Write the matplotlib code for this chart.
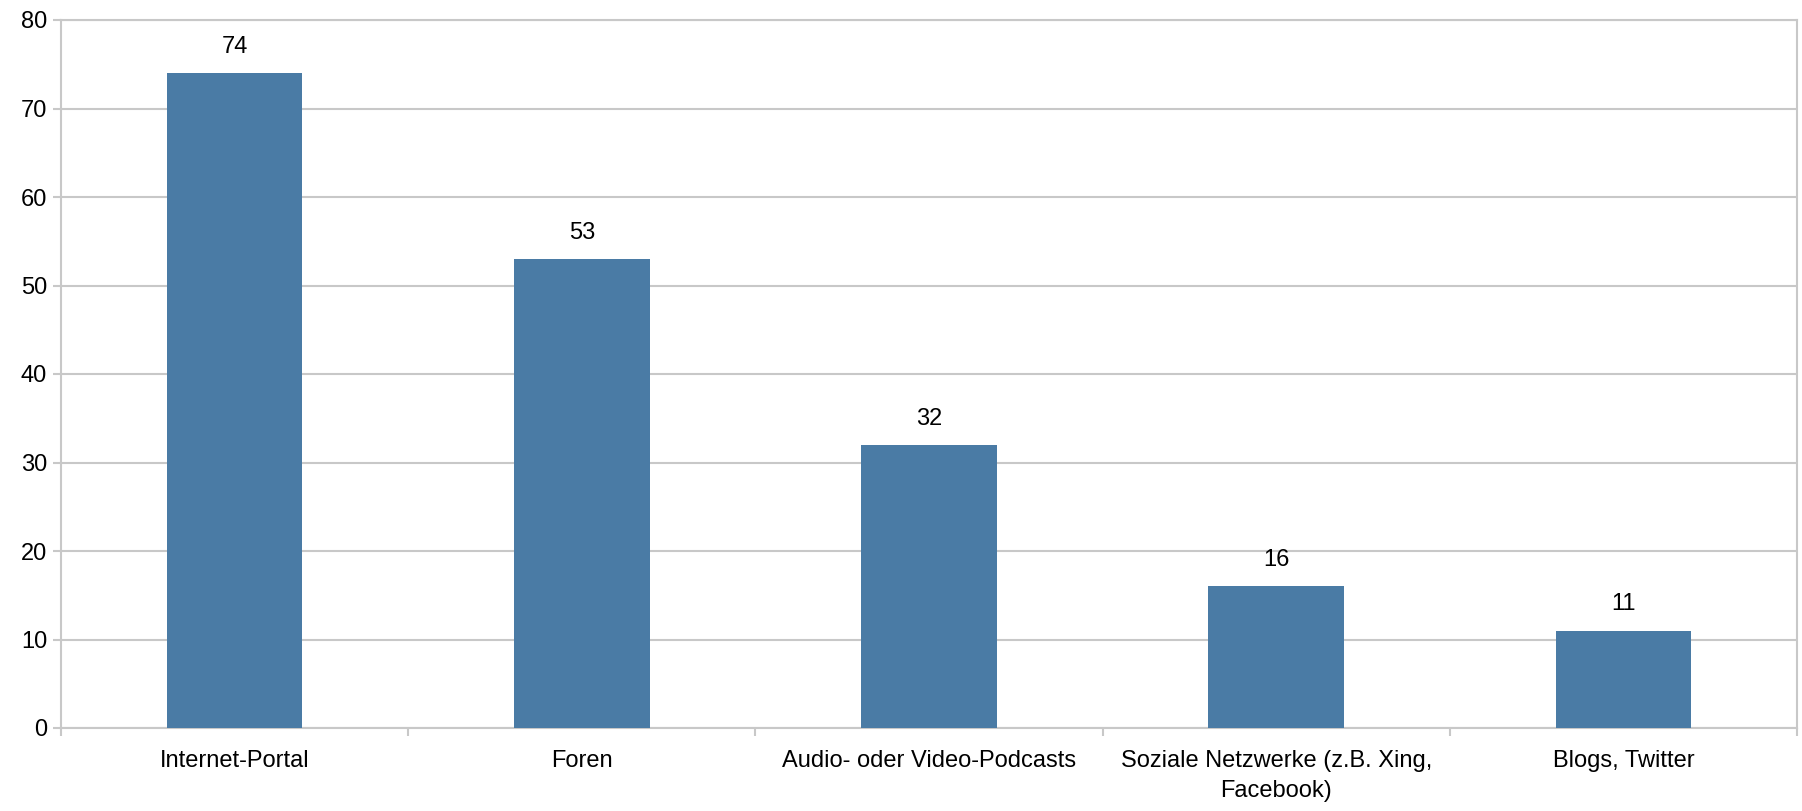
import matplotlib.pyplot as plt
import numpy as np

kategorien = ['Internet-Portal', 'Foren', 'Audio- oder Video-Podcasts',
              'Soziale Netzwerke (z.B. Xing,\nFacebook)', 'Blogs, Twitter']
werte = [74, 53, 32, 16, 11]
y_ticks = [0, 10, 20, 30, 40, 50, 60, 70, 80]

plt.rcParams['font.family'] = ['Liberation Sans', 'DejaVu Sans']

fig = plt.figure(figsize=(18.02, 8.11), dpi=100)
ax = fig.add_axes([61 / 1802, 1 - 728 / 811, (1797 - 61) / 1802, (728 - 20) / 811])

x = np.arange(len(werte))
ax.bar(x, werte, width=0.39, color='#4a7ba5', linewidth=0, zorder=3)
for xi, v in zip(x, werte):
    ax.annotate(str(v), (xi, v), xytext=(0, 11), textcoords='offset points',
                ha='center', va='bottom', fontsize=17)

ax.set_xlim(-0.5, len(werte) - 0.5)
ax.set_ylim(0, 80)
ax.set_yticks(y_ticks)
ax.yaxis.grid(True, color='#c8c8c8', linewidth=1.5, zorder=0)

# Kategorie-Beschriftungen mittig, Ticks an den Grenzen
ax.set_xticks(x)
ax.set_xticklabels(kategorien, fontsize=17, linespacing=1.45)
ax.tick_params(axis='x', length=0, pad=16)
ax.set_xticks(np.arange(-0.5, len(werte)), minor=True)
ax.tick_params(axis='x', which='minor', length=6, width=1.5, color='#c8c8c8')
ax.tick_params(axis='y', length=6, width=1.5, color='#c8c8c8', labelsize=17, pad=4)

for s in ['left', 'right', 'bottom', 'top']:
    ax.spines[s].set_color('#c8c8c8')
    ax.spines[s].set_linewidth(1.5)

plt.savefig('out.png', dpi=100)
